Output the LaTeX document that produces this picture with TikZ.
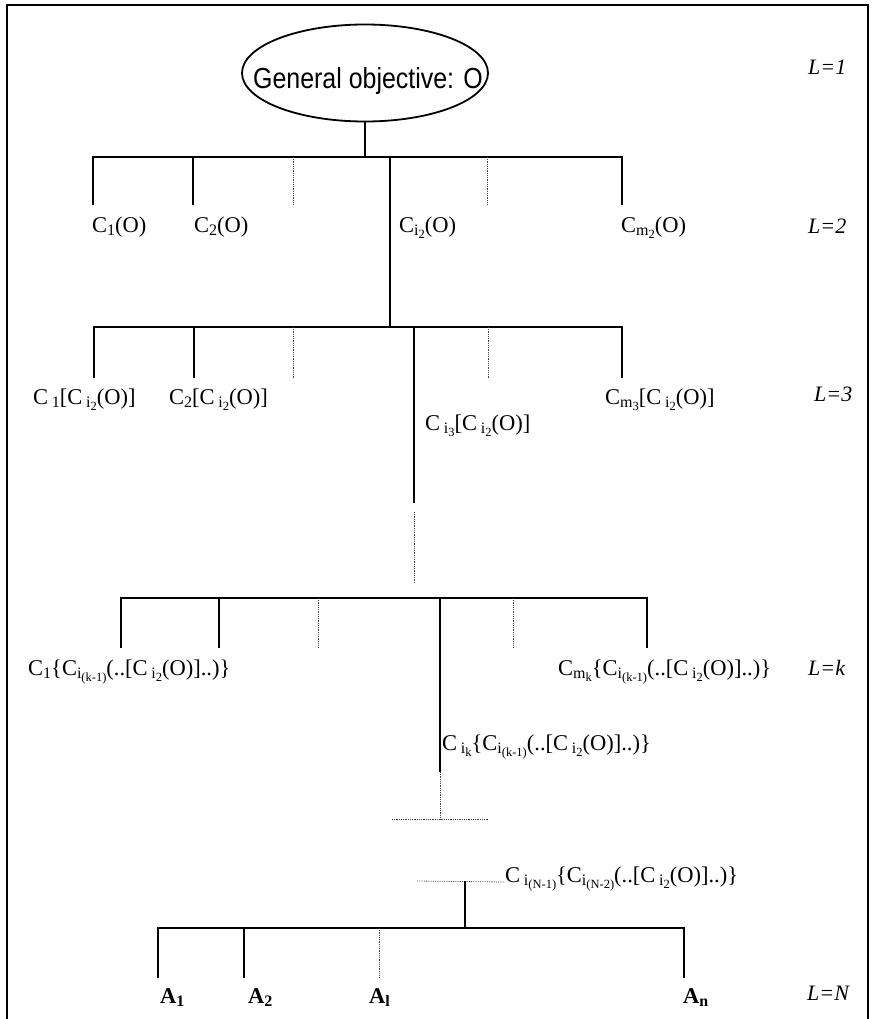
\documentclass[tikz,border=0pt]{standalone}
\usepackage{fontspec}
\setmainfont{Liberation Serif}
\newfontfamily\objfont[FakeStretch=0.86]{Liberation Sans}
\usetikzlibrary{shapes.geometric}

% lowered indices, one and two levels deep
\newcommand{\idx}[1]{\raisebox{-0.32ex}{\fontsize{16}{18}\selectfont #1}}
\newcommand{\iidx}[1]{\raisebox{-0.45ex}{\fontsize{12.5}{14}\selectfont #1}}

\begin{document}
\begin{tikzpicture}[
  x=1pt, y=-1pt,
  font=\fontsize{22.5}{26}\selectfont,
  branch/.style={line width=2.2pt},
  faint/.style={line width=0.8pt, densely dotted, draw=black!75},
  crit/.style={anchor=base west, inner sep=0pt},
  levelmark/.style={anchor=base west, inner sep=0pt, font=\fontsize{22}{25}\selectfont\itshape},
  action/.style={anchor=base west, inner sep=0pt, font=\fontsize{22.5}{26}\selectfont\bfseries}
]
\useasboundingbox (0,0) rectangle (871,1019);

% Frame, open at the bottom
\coordinate (fbl) at (7,1019);
\coordinate (ftl) at (7,5);
\coordinate (ftr) at (868,5);
\coordinate (fbr) at (868,1019);
\draw[line width=1.8pt] (fbl) -- (ftl) -- (ftr) -- (fbr);

% L=1: the general objective
\node[ellipse, draw, line width=1.8pt, minimum width=246, minimum height=97,
      inner sep=0pt] (goal) at (365,73) {};
\node[anchor=base, inner sep=0pt, font=\objfont\fontsize{29}{33}\selectfont]
  (goaltxt) at (368,89) {General objective: O};
\node[levelmark] (L1) at (808,75) {L=1};

% L=2: criteria of the objective
\node[crit] (c2a) at (92,232) {C\idx{1}(O)};
\node[crit] (c2b) at (194,232) {C\idx{2}(O)};
\node[crit] (c2d) at (399,232) {C\idx{i\iidx{2}}(O)};
\node[crit] (c2f) at (621,232) {C\idx{m\iidx{2}}(O)};
\node[levelmark] (L2) at (808,233) {L=2};

\coordinate (j2) at (365,157);
\coordinate (d2a) at (93,205);
\coordinate (d2b) at (193,205);
\coordinate (d2c) at (293,205);
\coordinate (d2e) at (487,205);
\coordinate (d2f) at (622,205);
\coordinate (j3) at (390,327);
\draw[branch] (goal.south) -- (j2);
\draw[branch] (d2a) -- (d2a |- j2) -- (d2f |- j2) -- (d2f);
\draw[branch] (d2b |- j2) -- (d2b);
\draw[branch] (j3 |- j2) -- (j3);
\draw[faint] (d2c |- j2) -- (d2c);
\draw[faint] (d2e |- j2) -- (d2e);

% L=3: sub-criteria of C_i2
\node[crit] (c3a) at (33,404) {C\,\idx{1}[C\,\idx{i\iidx{2}}(O)]};
\node[crit] (c3b) at (169,404) {C\idx{2}[C\,\idx{i\iidx{2}}(O)]};
\node[crit] (c3f) at (605,404) {C\idx{m\iidx{3}}[C\,\idx{i\iidx{2}}(O)]};
\node[crit] (c3d) at (425,430) {C\,\idx{i\iidx{3}}[C\,\idx{i\iidx{2}}(O)]};
\node[levelmark] (L3) at (814,401) {L=3};

\coordinate (d3a) at (94,378);
\coordinate (d3b) at (194,378);
\coordinate (d3c) at (293,378);
\coordinate (d3d) at (414,503);
\coordinate (d3e) at (488,378);
\coordinate (d3f) at (622,378);
\coordinate (g3t) at (414,512);
\coordinate (g3b) at (414,583);
\draw[branch] (d3a) -- (d3a |- j3) -- (d3f |- j3) -- (d3f);
\draw[branch] (d3b |- j3) -- (d3b);
\draw[branch] (d3d |- j3) -- (d3d);
\draw[faint] (d3c |- j3) -- (d3c);
\draw[faint] (d3e |- j3) -- (d3e);
\draw[faint] (g3t) -- (g3b);

% L=k
\node[crit] (cka) at (28,675)
  {C\idx{1}\{C\idx{i\iidx{(k-1)}}(..[C\,\idx{i\iidx{2}}(O)]..)\}};
\node[crit] (ckf) at (558,675)
  {C\idx{m\iidx{k}}\{C\idx{i\iidx{(k-1)}}(..[C\,\idx{i\iidx{2}}(O)]..)\}};
\node[crit] (ckd) at (442,750)
  {C\,\idx{i\iidx{k}}\{C\idx{i\iidx{(k-1)}}(..[C\,\idx{i\iidx{2}}(O)]..)\}};
\node[levelmark] (Lk) at (808,675) {L=k};

\coordinate (jk) at (440,598);
\coordinate (dka) at (121,648);
\coordinate (dkb) at (219,648);
\coordinate (dkc) at (318,648);
\coordinate (dkd) at (440,772);
\coordinate (dke) at (513,648);
\coordinate (dkf) at (647,648);
\coordinate (gk) at (440,819);
\coordinate (gkl) at (392,819);
\coordinate (gkr) at (488,819);
\draw[branch] (dka) -- (dka |- jk) -- (dkf |- jk) -- (dkf);
\draw[branch] (dkb |- jk) -- (dkb);
\draw[branch] (jk) -- (dkd);
\draw[faint] (dkc |- jk) -- (dkc);
\draw[faint] (dke |- jk) -- (dke);
\draw[faint] (dkd) -- (gk);
\draw[faint] (gkl) -- (gkr);

% L=N: the alternatives
\node[crit] (cn) at (505,882)
  {C\,\idx{i\iidx{(N-1)}}\{C\idx{i\iidx{(N-2)}}(..[C\,\idx{i\iidx{2}}(O)]..)\}};
\node[action] (a1) at (160,1003) {A\idx{1}};
\node[action] (a2) at (248,1003) {A\idx{2}};
\node[action] (al) at (369,1003) {A\idx{l}};
\node[action] (an) at (683,1003) {A\idx{n}};
\node[levelmark] (LN) at (807,1000) {L=N};

\coordinate (jn) at (465,881);
\coordinate (gnl) at (417,881);
\coordinate (bn) at (465,928);
\coordinate (dna) at (158,978);
\coordinate (dnb) at (244,978);
\coordinate (dnc) at (379,978);
\coordinate (dnd) at (684,978);
\draw[faint] (gnl) -- (cn.base west);
\draw[branch] (jn) -- (bn);
\draw[branch] (dna) -- (dna |- bn) -- (dnd |- bn) -- (dnd);
\draw[branch] (dnb |- bn) -- (dnb);
\draw[faint] (dnc |- bn) -- (dnc);

\end{tikzpicture}
\end{document}
